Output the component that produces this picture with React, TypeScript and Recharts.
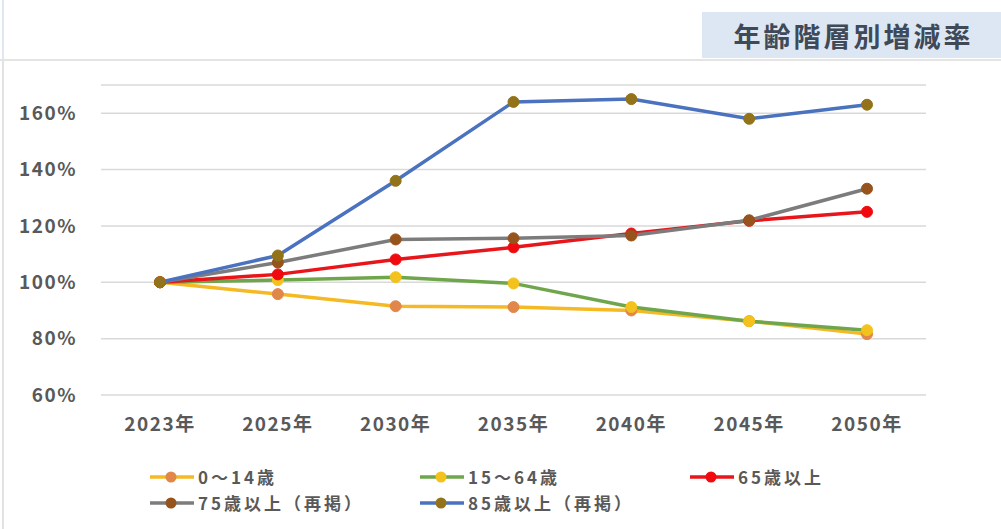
import { LineChart, Line, XAxis, YAxis, CartesianGrid } from 'recharts';

const years = ['2023年', '2025年', '2030年', '2035年', '2040年', '2045年', '2050年'];
const age0to14 = [100, 95.8, 91.5, 91.2, 90.0, 86.2, 81.6];
const age15to64 = [100, 100.8, 101.8, 99.6, 91.2, 86.2, 83.0];
const age65plus = [100, 102.8, 108.1, 112.4, 117.3, 121.8, 125.0];
const age75plus = [100, 107.0, 115.2, 115.6, 116.6, 122.0, 133.2];
const age85plus = [100, 109.5, 136.0, 164.0, 165.0, 158.0, 163.0];
const yTicks = [60, 80, 100, 120, 140, 160];

const seriesList = [
    { key: 'a0', name: '0～14歳', values: age0to14, line: '#f5b924', dot: '#e2874a' },
    { key: 'a15', name: '15～64歳', values: age15to64, line: '#6fa64c', dot: '#f3c21c' },
    { key: 'a65', name: '65歳以上', values: age65plus, line: '#e8151b', dot: '#f00a10' },
    { key: 'a75', name: '75歳以上（再掲）', values: age75plus, line: '#7c7c7c', dot: '#97531c' },
    { key: 'a85', name: '85歳以上（再掲）', values: age85plus, line: '#4a72bf', dot: '#93731a' },
];

// legend placement in the reference: 3 columns, 2 rows
const legendSlots = [
    { left: 150, top: 467 },
    { left: 420, top: 467 },
    { left: 690, top: 467 },
    { left: 150, top: 493 },
    { left: 420, top: 493 },
];

const chartData = years.map((year, i) => {
    const row: Record<string, string | number> = { year };
    seriesList.forEach(s => { row[s.key] = s.values[i]; });
    return row;
});

const FONT = '"Noto Sans CJK JP", "Noto Sans", sans-serif';
const TEXT = '#595959';
const tickStyle = { fill: TEXT, fontSize: 19, fontWeight: 700, fontFamily: FONT, letterSpacing: 1.5 };

export default function App() {
    return (
        <div style={{ position: 'absolute', left: 0, top: 0, width: 1001, height: 529, background: '#fff', fontFamily: FONT, overflow: 'hidden' }}>
            {/* frame lines */}
            <div style={{ position: 'absolute', left: 2, top: 0, width: 2, height: 60, background: '#dfe8f2' }} />
            <div style={{ position: 'absolute', left: 2, top: 60, width: 2, height: 469, background: '#e2e2e2' }} />
            <div style={{ position: 'absolute', left: 0, top: 59, width: 1001, height: 2, background: '#e4e4e4' }} />

            {/* title box */}
            <div style={{
                position: 'absolute', left: 702, top: 12, width: 299, height: 46, boxSizing: 'border-box', paddingLeft: 4,
                background: '#dce7f3', color: '#3f4957', fontSize: 27, fontWeight: 700,
                display: 'flex', alignItems: 'center', justifyContent: 'center', letterSpacing: 3,
            }}>
                年齢階層別増減率
            </div>

            <div style={{ position: 'absolute', left: 0, top: 0 }}>
                <LineChart width={1001} height={529} data={chartData} margin={{ top: 85, right: 75, left: 0, bottom: 0 }}>
                    <CartesianGrid vertical={false} stroke="#d9d9d9" strokeWidth={1.5} />
                    <XAxis
                        dataKey="year"
                        height={134}
                        padding={{ left: 59, right: 59 }}
                        axisLine={false}
                        tickLine={false}
                        tickMargin={17}
                        tick={tickStyle}
                    />
                    <YAxis
                        width={101}
                        domain={[60, 170]}
                        ticks={yTicks}
                        axisLine={false}
                        tickLine={false}
                        tickMargin={18}
                        tickFormatter={(v) => `${v}%`}
                        tick={tickStyle}
                    />
                    {seriesList.map(s => (
                        <Line
                            key={s.key}
                            dataKey={s.key}
                            name={s.name}
                            type="linear"
                            stroke={s.line}
                            strokeWidth={3.5}
                            dot={{ r: 5.5, fill: s.dot, stroke: s.dot, strokeWidth: 1 }}
                            activeDot={false}
                            isAnimationActive={false}
                        />
                    ))}
                </LineChart>
            </div>

            {/* legend */}
            {seriesList.map((s, i) => (
                <div key={s.key} style={{ position: 'absolute', left: legendSlots[i].left, top: legendSlots[i].top, height: 20, display: 'flex', alignItems: 'center' }}>
                    <svg width={46} height={20}>
                        <line x1={0} y1={10} x2={44} y2={10} stroke={s.line} strokeWidth={3.5} />
                        <circle cx={21} cy={10} r={5.5} fill={s.dot} />
                    </svg>
                    <span style={{ marginLeft: 2, color: TEXT, fontSize: 17, lineHeight: '20px', fontWeight: 700, letterSpacing: 3 }}>{s.name}</span>
                </div>
            ))}
        </div>
    );
}
